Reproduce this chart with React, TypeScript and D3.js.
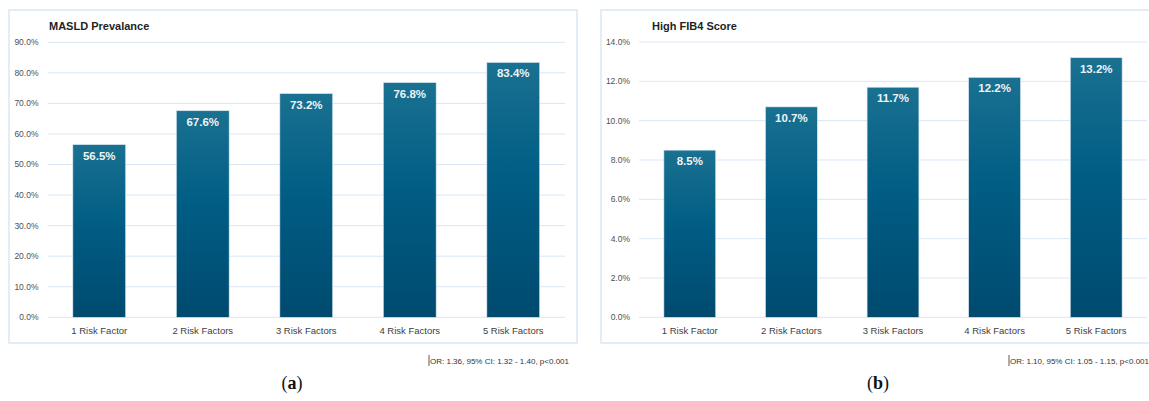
import React from "react";
import * as d3 from "d3";

const categories = ["1 Risk Factor", "2 Risk Factors", "3 Risk Factors", "4 Risk Factors", "5 Risk Factors"];
const maslValues = [56.5, 67.6, 73.2, 76.8, 83.4];
const fib4Values = [8.5, 10.7, 11.7, 12.2, 13.2];
const maslTicks = [0, 10, 20, 30, 40, 50, 60, 70, 80, 90];
const fib4Ticks = [0, 2, 4, 6, 8, 10, 12, 14];

const FONT = "'Liberation Sans', Arial, sans-serif";

function Panel({ id, title, values, ticks, box, plot, note, noteX, letter, letterX }) {
  const x = d3.scaleBand().domain(categories).range([plot.x0, plot.x1]).paddingInner(0.49).paddingOuter(0.245);
  const y = d3.scaleLinear().domain([0, ticks[ticks.length - 1]]).range([plot.y0, plot.y1]);

  return (
    <g>
      <rect x={box.x0} y={box.y0} width={box.x1 - box.x0} height={box.y1 - box.y0} fill="#fff" stroke="#dae7f3" strokeWidth={1.5} />
      <text x={box.titleX} y={30} fontFamily={FONT} fontWeight="bold" fontSize={11} fill="#1f1f1f">{title}</text>
      {ticks.map((t) => (
        <g key={t}>
          <line x1={plot.x0} x2={plot.x1} y1={y(t)} y2={y(t)} stroke="#d9e7f5" strokeWidth={1} />
          <text x={plot.x0 - 9} y={y(t)} dy="0.35em" textAnchor="end" fontFamily={FONT} fontSize={8.5} fill="#505050">
            {t.toFixed(1) + "%"}
          </text>
        </g>
      ))}
      {values.map((v, i) => (
        <g key={i}>
          <rect x={x(categories[i])} y={y(v)} width={x.bandwidth()} height={y(0) - y(v)} fill={`url(#grad-${id})`} stroke="#d4e4ee" strokeWidth={0.6} />
          <text x={x(categories[i]) + x.bandwidth() / 2} y={y(v) + 11} dy="0.35em" textAnchor="middle" fontFamily={FONT} fontWeight="bold" fontSize={11.5} fill="#eef3f6">
            {v.toFixed(1) + "%"}
          </text>
          <text x={x(categories[i]) + x.bandwidth() / 2} y={331} dy="0.35em" textAnchor="middle" fontFamily={FONT} fontSize={9.5} fill="#404040">
            {categories[i]}
          </text>
        </g>
      ))}
      <line x1={noteX} x2={noteX} y1={355} y2={366} stroke="#333" strokeWidth={0.8} />
      <text x={noteX + 1} y={361} dy="0.35em" fontFamily={FONT} fontSize={8} fill="#333">{note}</text>
      <text x={letterX} y={389} textAnchor="middle" fontFamily="'Liberation Serif', 'DejaVu Serif', serif" fontSize={18} fill="#111">
        (<tspan fontWeight="bold">{letter}</tspan>)
      </text>
    </g>
  );
}

export default function App() {
  return (
    <svg width={1149} height={401} style={{ position: "absolute", left: 0, top: 0, background: "#fff" }}>
      <defs>
        {["a", "b"].map((k) => (
          <linearGradient key={k} id={`grad-${k}`} x1="0" y1="0" x2="0" y2="1">
            <stop offset="0%" stopColor="#1a7191" />
            <stop offset="45%" stopColor="#005d84" />
            <stop offset="100%" stopColor="#004a6f" />
          </linearGradient>
        ))}
      </defs>
      <Panel
        id="a"
        title="MASLD Prevalance"
        values={maslValues}
        ticks={maslTicks}
        box={{ x0: 9, x1: 577, y0: 10, y1: 343, titleX: 49 }}
        plot={{ x0: 47.5, x1: 565, y0: 317.3, y1: 42.3 }}
        note="OR: 1.36, 95% CI: 1.32 - 1.40, p<0.001"
        noteX={429}
        letter="a"
        letterX={292}
      />
      <Panel
        id="b"
        title="High FIB4 Score"
        values={fib4Values}
        ticks={fib4Ticks}
        box={{ x0: 601, x1: 1150, y0: 10, y1: 343, titleX: 652 }}
        plot={{ x0: 639, x1: 1147, y0: 317.3, y1: 42 }}
        note="OR: 1.10, 95% CI: 1.05 - 1.15, p<0.001"
        noteX={1009}
        letter="b"
        letterX={878}
      />
    </svg>
  );
}
